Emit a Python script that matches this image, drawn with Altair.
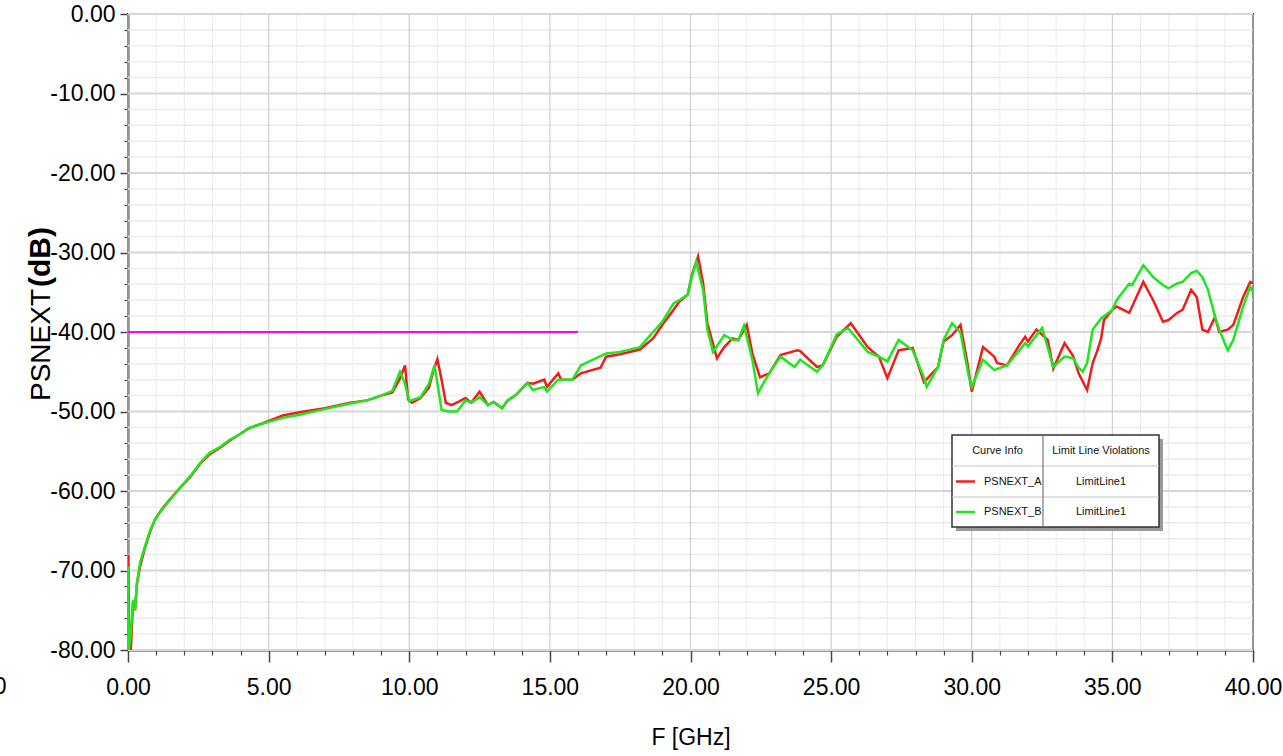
import altair as alt
import pandas as pd

# PSNEXT_A (red) trace: frequency [GHz] and level [dB]
freq_a = [0.00, 0.03, 0.10, 0.18, 0.25, 0.32, 0.43, 0.60, 0.78, 0.96, 1.20, 1.50, 1.85, 2.20, 2.56,
          2.90, 3.30, 3.60, 4.00, 4.30, 4.70, 5.00, 5.50, 6.10, 7.00, 7.90, 8.50, 9.00, 9.40, 9.65,
          9.85, 9.96, 10.10, 10.40, 10.70, 10.85, 11.00, 11.15, 11.30, 11.50, 11.80, 12.00, 12.20,
          12.50, 12.80, 13.00, 13.30, 13.50, 13.80, 14.20, 14.40, 14.80, 14.90, 15.30, 15.40, 15.80,
          16.10, 16.80, 17.00, 17.50, 18.20, 18.67, 19.00, 19.40, 19.60, 19.90, 20.05, 20.27, 20.45,
          20.60, 20.94, 21.20, 21.50, 21.70, 22.00, 22.20, 22.47, 22.80, 23.20, 23.50, 23.80, 23.90,
          24.50, 24.70, 25.20, 25.70, 26.30, 26.70, 27.00, 27.40, 27.90, 28.30, 28.80, 29.00, 29.30,
          29.60, 29.85, 30.00, 30.40, 30.80, 30.90, 31.25, 31.70, 31.90, 32.00, 32.30, 32.70, 32.90,
          33.30, 33.60, 33.80, 34.10, 34.30, 34.45, 34.60, 34.70, 35.00, 35.15, 35.60, 36.10, 36.45,
          36.80, 37.00, 37.30, 37.50, 37.80, 38.00, 38.20, 38.40, 38.65, 38.80, 39.10, 39.30, 39.65,
          39.90, 40.00]
psnext_a = [-68.0, -76.0, -80.0, -74.0, -75.0, -71.6, -69.5, -67.2, -65.2, -63.6, -62.3, -61.0, -59.6,
            -58.3, -56.6, -55.4, -54.5, -53.7, -52.8, -52.1, -51.6, -51.2, -50.5, -50.1, -49.6, -48.9,
            -48.6, -48.0, -47.6, -46.0, -44.2, -48.5, -48.9, -48.3, -47.0, -45.0, -43.4, -46.0, -48.9,
            -49.2, -48.7, -48.3, -48.9, -47.5, -49.2, -48.8, -49.6, -48.6, -47.9, -46.4, -46.5, -46.0,
            -46.9, -45.2, -46.0, -46.0, -45.2, -44.5, -43.1, -42.8, -42.2, -40.8, -39.1, -37.2, -36.2,
            -35.3, -32.8, -30.5, -33.9, -38.9, -43.3, -41.9, -40.8, -41.0, -39.1, -42.7, -45.7, -45.2,
            -42.9, -42.6, -42.3, -42.4, -44.4, -44.2, -40.6, -38.9, -41.9, -43.1, -45.8, -42.3, -42.0,
            -46.3, -44.4, -41.2, -40.4, -39.1, -44.0, -47.5, -41.9, -43.1, -43.9, -44.2, -41.6, -40.6,
            -41.2, -39.7, -41.0, -44.6, -41.4, -43.0, -45.2, -47.3, -43.9, -42.5, -40.8, -38.5, -37.2,
            -36.8, -37.6, -33.7, -36.0, -38.7, -38.5, -37.6, -37.2, -34.7, -35.6, -39.7, -40.0, -38.1,
            -40.0, -39.7, -39.1, -35.6, -33.7, -33.9]

# PSNEXT_B (green) trace
freq_b = [0.00, 0.03, 0.10, 0.18, 0.25, 0.32, 0.43, 0.60, 0.78, 0.96, 1.20, 1.50, 1.85, 2.20, 2.56,
          2.90, 3.30, 3.60, 4.00, 4.30, 4.70, 5.00, 5.50, 6.10, 7.00, 7.90, 8.50, 9.00, 9.40, 9.67,
          9.85, 10.00, 10.40, 10.70, 10.90, 11.15, 11.40, 11.70, 12.00, 12.20, 12.50, 12.80, 13.00,
          13.30, 13.50, 13.80, 14.20, 14.40, 14.80, 14.90, 15.30, 15.60, 15.80, 16.10, 17.00, 17.50,
          18.20, 18.67, 19.00, 19.40, 19.60, 19.90, 20.05, 20.20, 20.45, 20.60, 20.80, 21.20, 21.50,
          21.70, 21.90, 22.20, 22.40, 22.60, 22.80, 23.20, 23.70, 23.90, 24.50, 24.70, 25.20, 25.60,
          26.30, 26.70, 27.00, 27.40, 27.90, 28.30, 28.40, 28.80, 29.00, 29.30, 29.60, 29.90, 30.00,
          30.40, 30.80, 31.25, 31.70, 31.90, 32.00, 32.50, 32.90, 33.30, 33.60, 33.80, 33.95, 34.10,
          34.30, 34.60, 35.00, 35.15, 35.60, 35.70, 36.10, 36.45, 36.80, 37.00, 37.30, 37.50, 37.80,
          38.00, 38.20, 38.40, 38.65, 38.80, 39.10, 39.30, 39.65, 39.90, 40.00]
psnext_b = [-69.5, -80.0, -78.0, -73.7, -75.0, -71.6, -69.0, -67.0, -65.0, -63.6, -62.4, -61.1, -59.6,
            -58.2, -56.5, -55.2, -54.4, -53.6, -52.8, -52.1, -51.6, -51.3, -50.8, -50.4, -49.7, -49.0,
            -48.6, -48.0, -47.4, -45.0, -46.5, -48.7, -48.2, -46.5, -44.2, -49.8, -50.0, -50.0, -48.6,
            -48.9, -48.2, -49.2, -48.8, -49.6, -48.6, -47.9, -46.4, -47.3, -46.9, -47.5, -46.0, -46.0,
            -46.0, -44.2, -42.7, -42.5, -41.9, -40.0, -38.7, -36.4, -36.0, -35.3, -33.0, -31.2, -34.7,
            -39.7, -42.5, -40.4, -41.0, -41.0, -39.2, -43.5, -47.7, -46.4, -45.2, -43.1, -44.4, -43.5,
            -45.0, -44.2, -40.3, -39.5, -42.5, -43.1, -43.7, -41.0, -42.3, -45.7, -46.9, -44.4, -41.0,
            -38.9, -40.1, -45.7, -46.9, -43.5, -44.8, -44.2, -42.3, -41.4, -41.8, -39.5, -44.4, -43.1,
            -43.3, -44.5, -45.0, -43.9, -39.7, -38.3, -37.2, -36.0, -33.9, -34.1, -31.6, -33.1, -34.1,
            -34.5, -33.9, -33.7, -32.6, -32.3, -33.1, -34.7, -38.1, -39.7, -42.3, -41.0, -36.8, -34.3,
            -35.0]

# Limit line
limit_freq = [0.0, 16.0]
limit_db = [-40.0, -40.0]

# Axis ticks
x_major = [0, 5, 10, 15, 20, 25, 30, 35, 40]
x_minor = [v for v in range(0, 41) if v % 5]
y_major = [-80, -70, -60, -50, -40, -30, -20, -10, 0]
y_minor = [v for v in range(-80, 1, 2) if v % 10]
x_edge_label = [-5.0]

series_names = ["PSNEXT_A", "PSNEXT_B"]
series_colors = ["#f01c1c", "#1fe61f"]
limit_name = "LimitLine1"

FONT = "Liberation Sans"
RED, GREEN, MAGENTA = series_colors[0], series_colors[1], "#ff00ff"

W, H = 1125, 636
xs = alt.Scale(domain=[0, 40], nice=False, zero=False)
ys = alt.Scale(domain=[-80, 0], nice=False, zero=False)
minus_fix = "replace(format(datum.value, '.2f'), '\u2212', '-')"

df_a = pd.DataFrame({"f": freq_a, "db": psnext_a})
df_b = pd.DataFrame({"f": freq_b, "db": psnext_b})
df_lim = pd.DataFrame({"f": limit_freq, "db": limit_db})
one = pd.DataFrame({"k": [0]})


def vgrid(values, color, width):
    return alt.Chart(pd.DataFrame({"f": values})).mark_rule(color=color, strokeWidth=width).encode(
        x=alt.X("f:Q", scale=xs, axis=None))


def hgrid(values, color, width):
    return alt.Chart(pd.DataFrame({"db": values})).mark_rule(color=color, strokeWidth=width).encode(
        y=alt.Y("db:Q", scale=ys, axis=None))


grid = (vgrid(x_minor, "#ebebeb", 1) + hgrid(y_minor, "#ebebeb", 1.5)
        + vgrid(x_major, "#cfcfcf", 1.2) + hgrid(y_major, "#d6d6d6", 2))

# minor ticks on both axes
minor_axes = alt.Chart(pd.DataFrame({"f": [0.0], "db": [-80.0]})).mark_point(opacity=0).encode(
    x=alt.X("f:Q", scale=xs, axis=alt.Axis(values=x_minor, orient="bottom", labels=False, grid=False,
                                           domain=False, tickSize=5, tickColor="#444", tickWidth=1.2,
                                           title=None)),
    y=alt.Y("db:Q", scale=ys, axis=alt.Axis(values=y_minor, orient="left", labels=False, grid=False,
                                            domain=False, tickSize=4, tickColor="#444", tickWidth=1.2,
                                            title=None)),
)

limit = alt.Chart(df_lim).mark_line(color=MAGENTA, strokeWidth=2).encode(
    x=alt.X("f:Q", scale=xs, axis=None), y=alt.Y("db:Q", scale=ys, axis=None))

line_a = alt.Chart(df_a).mark_line(color=RED, strokeWidth=2.5, clip=True).encode(
    x=alt.X("f:Q", scale=xs, axis=alt.Axis(values=x_major, orient="bottom", grid=False, tickSize=12,
                                           tickColor="#444", tickWidth=1.5, domainColor="#444",
                                           domainWidth=2, labelExpr=minus_fix, labelFont=FONT,
                                           labelFontSize=23, labelColor="#000", labelPadding=14,
                                           labelFlush=False, labelOverlap=False,
                                           title="F [GHz]", titleFont=FONT, titleFontSize=23,
                                           titleFontWeight="normal", titleColor="#000",
                                           titlePadding=27)),
    y=alt.Y("db:Q", scale=ys, axis=alt.Axis(values=y_major, orient="left", grid=False, tickSize=8,
                                            tickColor="#444", tickWidth=1.5, domainColor="#444",
                                            domainWidth=2, labelExpr=minus_fix, labelFont=FONT,
                                            labelFontSize=23, labelColor="#000", labelPadding=5,
                                            labelFlush=False, labelOverlap=False, title=None)),
)
line_b = alt.Chart(df_b).mark_line(color=GREEN, strokeWidth=2.5, clip=True).encode(
    x=alt.X("f:Q", scale=xs, axis=None), y=alt.Y("db:Q", scale=ys, axis=None))

# partially visible tick label left of the plot
edge = alt.Chart(pd.DataFrame({"f": x_edge_label})).mark_text(
    font=FONT, fontSize=23, color="#000", align="center", baseline="top", clip=False, dx=-7,
    text="-5.00").encode(x=alt.X("f:Q", scale=xs, axis=None), y=alt.value(H + 26))

# rotated y-axis title: regular name + bold unit sharing one baseline
ytitle_name = alt.Chart(one).mark_text(font=FONT, fontSize=28, angle=270, color="#000",
                                       align="center", baseline="alphabetic", text="PSNEXT").encode(
    x=alt.value(-78), y=alt.value(331))
ytitle_unit = alt.Chart(one).mark_text(font=FONT, fontSize=30, fontWeight="bold",
                                       angle=270, color="#000", align="center", baseline="alphabetic",
                                       text="(dB)").encode(x=alt.value(-78), y=alt.value(243))

# legend table
LX0, LX1, LXD = 824, 1031, 915
LY0, LY1, LY2, LY3 = 421, 452, 483, 513


def box(x0, x1, y0, y1, fill, stroke=None, sw=0):
    kw = dict(fill=fill)
    if stroke:
        kw.update(stroke=stroke, strokeWidth=sw)
    return alt.Chart(one).mark_rect(**kw).encode(
        x=alt.value(x0), x2=alt.value(x1), y=alt.value(y0), y2=alt.value(y1))


def hline(x0, x1, y, color, sw):
    return alt.Chart(one).mark_rule(color=color, strokeWidth=sw).encode(
        x=alt.value(x0), x2=alt.value(x1), y=alt.value(y))


def vline(x, y0, y1, color, sw):
    return alt.Chart(one).mark_rule(color=color, strokeWidth=sw).encode(
        x=alt.value(x), y=alt.value(y0), y2=alt.value(y1))


def label(txt, x, y, align="center"):
    return alt.Chart(one).mark_text(font=FONT, fontSize=11, color="#111", align=align,
                                    baseline="middle", text=txt).encode(x=alt.value(x), y=alt.value(y))


legend = (
    box(LX0 + 4, LX1 + 4, LY0 + 4, LY3 + 4, "#9a9a9a")
    + box(LX0, LX1, LY0, LY3, "#ffffff", "#333333", 1.5)
    + hline(LX0, LX1, LY1, "#c4c4c4", 1.2)
    + hline(LX0, LX1, LY2, "#c4c4c4", 1.2)
    + vline(LXD, LY0, LY3, "#777777", 1.2)
    + label("Curve Info", (LX0 + LXD) / 2, (LY0 + LY1) / 2)
    + label("Limit Line Violations", (LXD + LX1) / 2, (LY0 + LY1) / 2)
    + hline(828, 847, (LY1 + LY2) / 2, RED, 2.5)
    + hline(828, 847, (LY2 + LY3) / 2, GREEN, 2.5)
    + label(series_names[0], 856, (LY1 + LY2) / 2, "left")
    + label(series_names[1], 856, (LY2 + LY3) / 2, "left")
    + label(limit_name, (LXD + LX1) / 2, (LY1 + LY2) / 2)
    + label(limit_name, (LXD + LX1) / 2, (LY2 + LY3) / 2)
)

chart = alt.layer(
    grid, minor_axes, limit, line_a, line_b, edge, ytitle_name, ytitle_unit, legend
).resolve_axis(x="independent", y="independent").properties(
    width=W, height=H,
    autosize=alt.AutoSizeParams(type="none"),
    padding={"left": 128, "top": 14, "right": 30, "bottom": 106},
    background="#ffffff",
).configure_view(stroke="#3a3a3a", strokeWidth=2)

chart.save("out.html", embed_options={"renderer": "svg", "actions": False})
